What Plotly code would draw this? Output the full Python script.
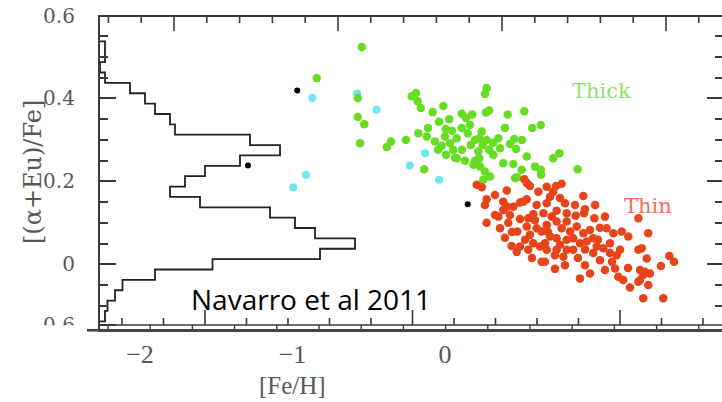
import plotly.graph_objects as go

# ---------------- data ----------------
halo_feh = [-0.870, -0.576, -0.448, -0.911, -0.995, -0.131, -0.231, -0.039]
halo_alpha = [0.401, 0.412, 0.373, 0.216, 0.186, 0.268, 0.238, 0.204]

black_feh = [-0.969, -1.292, 0.149]
black_alpha = [0.419, 0.238, 0.145]

thick_feh = [-0.546, -0.841, -0.572, -0.572, -0.529, -0.557, -0.382, -0.354, -0.256, -0.218,
             -0.190, -0.179, -0.159, -0.081, -0.011, -0.039, 0.028, 0.110, 0.138, 0.179,
             0.273, 0.262, 0.289, 0.269, 0.411, 0.520, 0.572, 0.628, -0.175, -0.120,
             -0.066, 0.005, 0.000, -0.022, 0.033, 0.077, 0.110, 0.149, 0.169, 0.054,
             0.007, 0.077, 0.131, 0.186, 0.225, 0.241, 0.225, 0.273, 0.247, 0.290,
             0.317, 0.350, 0.361, 0.426, 0.454, 0.466, 0.382, 0.448, 0.536, 0.590,
             0.628, 0.710, 0.750, 0.870, 0.230, 0.262, 0.295, 0.251, 0.503, 0.474,
             -0.136, 0.630, 0.197, 0.218, 0.459, 0.066, -0.111, 0.046, 0.164, 0.111,
             0.197, -0.046, 0.315, 0.393, 0.505]
thick_alpha = [0.524, 0.449, 0.401, 0.355, 0.338, 0.292, 0.283, 0.296, 0.300, 0.405,
               0.413, 0.393, 0.377, 0.367, 0.382, 0.344, 0.350, 0.363, 0.353, 0.361,
               0.425, 0.411, 0.371, 0.366, 0.361, 0.369, 0.329, 0.336, 0.316, 0.308,
               0.296, 0.326, 0.308, 0.286, 0.292, 0.304, 0.329, 0.316, 0.288, 0.276,
               0.264, 0.256, 0.250, 0.240, 0.256, 0.320, 0.304, 0.300, 0.288, 0.276,
               0.264, 0.304, 0.280, 0.290, 0.302, 0.278, 0.244, 0.242, 0.260, 0.236,
               0.228, 0.256, 0.268, 0.229, 0.236, 0.224, 0.212, 0.204, 0.228, 0.210,
               0.229, 0.216, 0.250, 0.272, 0.208, 0.257, 0.329, 0.322, 0.336, 0.276,
               0.300, 0.276, 0.293, 0.329, 0.300]

thin_feh = [0.208, 0.241, 0.536, 0.520, 0.557, 0.405, 0.273, 0.262, 0.382, 0.409,
            0.492, 0.536, 0.612, 0.667, 0.728, 0.765, 0.710, 0.689, 0.601, 0.667,
            0.787, 0.907, 0.918, 0.911, 0.979, 0.857, 0.798, 0.732, 0.700, 0.645,
            0.579, 0.546, 0.492, 0.426, 0.350, 0.361, 0.273, 0.415, 0.474, 0.536,
            0.557, 0.601, 0.634, 0.667, 0.732, 0.765, 0.798, 0.820, 0.864, 0.907,
            0.972, 0.929, 0.885, 0.841, 0.798, 0.732, 0.689, 0.656, 0.623, 0.579,
            0.546, 0.437, 0.492, 0.470, 0.634, 0.721, 0.776, 0.841, 0.918, 0.972,
            1.038, 1.082, 1.104, 1.016, 0.918, 0.885, 0.951, 1.049, 1.115, 1.136,
            1.169, 1.213, 1.268, 1.279, 1.300, 1.344, 1.333, 1.300, 1.431, 1.416,
            1.471, 1.502, 1.323, 1.268, 1.159, 1.202, 1.148, 1.268, 1.333, 1.126,
            1.082, 0.995, 0.448, 0.732, 0.667, 0.798, 1.049, 1.060, 0.513, 0.382,
            0.328, 1.290, 1.311, 1.279, 0.590, 0.675, 0.754, 0.951, 1.003, 0.393,
            0.525, 0.721, 0.872, 0.787, 1.095, 1.200, 0.328, 0.754, 0.852, 0.984,
            1.016, 0.439, 0.570, 0.656]
thin_alpha = [0.192, 0.186, 0.196, 0.205, 0.189, 0.178, 0.157, 0.143, 0.151, 0.139,
              0.149, 0.157, 0.175, 0.187, 0.189, 0.194, 0.175, 0.163, 0.143, 0.147,
              0.147, 0.165, 0.133, 0.123, 0.111, 0.117, 0.123, 0.129, 0.115, 0.123,
              0.121, 0.111, 0.109, 0.119, 0.115, 0.087, 0.100, 0.100, 0.079, 0.091,
              0.071, 0.087, 0.079, 0.095, 0.103, 0.087, 0.103, 0.079, 0.091, 0.075,
              0.063, 0.055, 0.051, 0.063, 0.059, 0.063, 0.067, 0.051, 0.043, 0.051,
              0.035, 0.044, 0.043, 0.030, 0.006, -0.011, 0.018, 0.035, 0.036, 0.027,
              0.039, 0.051, 0.075, 0.010, -0.002, -0.034, -0.022, -0.014, -0.010, -0.030,
              -0.038, -0.056, -0.042, -0.014, -0.026, -0.022, -0.050, -0.082, -0.082, -0.004,
              0.020, 0.006, 0.014, 0.035, 0.079, 0.067, 0.035, 0.111, 0.075, 0.022,
              0.027, 0.043, 0.139, 0.035, 0.035, 0.035, 0.115, 0.087, 0.151, 0.131,
              0.119, 0.039, -0.018, -0.038, 0.106, 0.078, 0.047, 0.083, 0.059, 0.064,
              0.059, 0.022, 0.015, -0.002, 0.006, -0.009, 0.167, 0.160, 0.143, 0.143,
              0.088, 0.078, 0.015, 0.006]

hist_centers = [0.525, 0.500, 0.475, 0.450, 0.425, 0.400, 0.375, 0.350, 0.325, 0.300,
                0.275, 0.250, 0.225, 0.200, 0.175, 0.150, 0.125, 0.100, 0.075, 0.050,
                0.025, 0.000, -0.025, -0.050, -0.075, -0.100, -0.125]
hist_counts = [1, 1, 0, 1, 6, 9, 11, 14, 15, 30,
               36, 28, 21, 17, 14, 20, 34, 39, 43, 51,
               44, 22.5, 11, 4.5, 3, 1.5, 1]
bin_width = 0.025

x_ticks = [-2, -1, 0]
x_ticktext = ["\u22122", "\u22121", "0"]
y_ticks = [0, 0.2, 0.4, 0.6]
y_ticktext = ["0", "0.2", "0.4", "0.6"]
y_minor = [-0.1, -0.05, 0.05, 0.1, 0.15, 0.25, 0.3, 0.35, 0.45, 0.5, 0.55]
# frame tick sets (top frame scale and bottom frame scale of the pasted panel)
top_major = [0, 1, 2, 3]
top_minor = [-0.4, -0.2, 0.2, 0.4, 0.6, 0.8, 1.2, 1.4, 1.6, 1.8, 2.2, 2.4, 2.6, 2.8, 3.2]
frm_major = [-2, -1, 0]
frm_minor = [-2.4, -2.2, -1.8, -1.6, -1.4, -1.2, -0.8, -0.6, -0.4, -0.2, 0.2, 0.4]
small_ticks = list(range(0, 15))

AX = "#3a3a3a"
LBL = "#575757"
YR = [-0.156, 0.6012]
TOP_R = [-0.4512, 3.3415]
FRM_R = [-2.506, 0.4916]
SML_R = [-0.1896, 14.55]
PX = (YR[1] - YR[0]) / 314.0     # one pixel in y-axis units
Y_TOP = YR[1] - 1 * PX           # top frame line (just inside plot area)
Y_FRAME = YR[0] + 4 * PX         # bottom frame line, 4 px above lower axis line

fig = go.Figure()

fig.add_trace(go.Scatter(x=halo_feh, y=halo_alpha, mode="markers",
                         marker=dict(color="#6fe6f2", size=8, line=dict(width=0))))
fig.add_trace(go.Scatter(x=thick_feh, y=thick_alpha, mode="markers",
                         marker=dict(color="#66dd22", size=8.5, line=dict(width=0))))
fig.add_trace(go.Scatter(x=thin_feh, y=thin_alpha, mode="markers",
                         marker=dict(color="#e8441a", size=8.5, line=dict(width=0))))
fig.add_trace(go.Scatter(x=black_feh, y=black_alpha, mode="markers",
                         marker=dict(color="#000000", size=6, line=dict(width=0))))

hx = [0]
hy = [hist_centers[0] + bin_width / 2]
for c, n in zip(hist_centers, hist_counts):
    hx += [n, n]
    hy += [c + bin_width / 2, c - bin_width / 2]
hx.append(0)
hy.append(hist_centers[-1] - bin_width / 2)
fig.add_trace(go.Scatter(x=hx, y=hy, xaxis="x2", yaxis="y", mode="lines",
                         line=dict(color="#222222", width=1.8), hoverinfo="skip"))

for ya in ["y2", "y3", "y4"]:
    fig.add_trace(go.Scatter(x=[], y=[], xaxis="x", yaxis=ya, mode="markers",
                             hoverinfo="skip", showlegend=False))


def tick_path(vals, y0, y1):
    xs, ys = [], []
    for v in vals:
        xs += [v, v, None]
        ys += [y0, y1, None]
    return xs, ys


def frame_trace(xs, ys, xaxis, width=1.6):
    # drawn on the main y axis (like the histogram), own x scale
    fig.add_trace(go.Scatter(x=xs, y=ys, xaxis=xaxis, yaxis="y", mode="lines",
                             line=dict(color=AX, width=width), hoverinfo="skip",
                             showlegend=False))


# top frame: line + downward ticks (own scale, axis x3)
frame_trace([TOP_R[0], TOP_R[1]], [Y_TOP, Y_TOP], "x3", width=2)
frame_trace(*tick_path(top_major, YR[1], YR[1] - 16 * PX), "x3")
frame_trace(*tick_path(top_minor, YR[1], YR[1] - 8 * PX), "x3")
# bottom frame: line + upward ticks (own scale, axis x4)
frame_trace([FRM_R[0], FRM_R[1]], [Y_FRAME, Y_FRAME], "x4", width=1.6)
frame_trace(*tick_path(frm_major, Y_FRAME, Y_FRAME + 15 * PX), "x4")
frame_trace(*tick_path(frm_minor, Y_FRAME, Y_FRAME + 7 * PX), "x4")
# tiny ticks between the two bottom lines (axis x5)
frame_trace(*tick_path(small_ticks, YR[0], Y_FRAME), "x5", width=1.4)


def tick_axis(rng, vals, ticklen, **kw):
    d = dict(range=rng, ticks="inside", ticklen=ticklen, tickwidth=1.6,
             tickcolor=AX, tickmode="array", tickvals=vals, showticklabels=False,
             showgrid=False, zeroline=False, showline=False)
    d.update(kw)
    return d


hidden = dict(showline=False, ticks="", showticklabels=False, showgrid=False,
              zeroline=False)

fig.update_layout(
    width=722, height=402,
    margin=dict(l=100, r=0, t=15, b=73),
    paper_bgcolor="white", plot_bgcolor="white",
    showlegend=False,
    xaxis=dict(domain=[0, 1], range=[-2.2623, 1.8164], anchor="y",
               showline=True, linecolor="#444444", linewidth=2.6,
               ticks="", tickmode="array", tickvals=x_ticks, ticktext=x_ticktext,
               tickfont=dict(family="Liberation Serif", size=26, color=LBL),
               showgrid=False, zeroline=False),
    xaxis2=dict(overlaying="x", anchor="y", range=[0, 124.4], **hidden),
    xaxis3=dict(overlaying="x", anchor="y", range=TOP_R, **hidden),
    xaxis4=dict(overlaying="x", anchor="y", range=FRM_R, **hidden),
    xaxis5=dict(overlaying="x", anchor="y", range=SML_R, **hidden),
    yaxis=dict(range=YR, anchor="x", showline=True, linecolor=AX, linewidth=2,
               ticks="inside", ticklen=16, tickwidth=1.6, tickcolor=AX,
               tickmode="array", tickvals=[-0.1464] + y_ticks,
               ticktext=["0.6   "] + [t + "   " for t in y_ticktext],
               tickfont=dict(family="DejaVu Serif", size=20, color=LBL),
               showgrid=False, zeroline=False),
    yaxis3=tick_axis(YR, y_minor, 8, overlaying="y", anchor="x", side="left"),
    yaxis2=tick_axis(YR, y_ticks, 15, overlaying="y", anchor="x", side="right"),
    yaxis4=tick_axis(YR, y_minor, 7, overlaying="y", anchor="x", side="right"),
)

# hide the lower half of the clipped bottom label, extend the lower axis line
fig.add_shape(type="rect", xref="paper", yref="paper", x0=-0.16, x1=-0.006,
              y0=-0.045, y1=0.012, fillcolor="white", line=dict(width=0), layer="above")
fig.add_shape(type="line", xref="paper", yref="paper", x0=-0.0209, x1=0.003,
              y0=-0.004, y1=-0.004, line=dict(color="#444444", width=2.6), layer="above")

fig.add_annotation(xref="paper", yref="paper", x=-0.1077, y=0.5, text="[(\u03b1+Eu)/Fe]",
                   textangle=-90, showarrow=False, xanchor="center", yanchor="middle",
                   font=dict(family="DejaVu Serif", size=24, color=LBL))
fig.add_annotation(xref="paper", yref="paper", x=0.3087, y=-0.1815, text="[Fe/H]",
                   showarrow=False, xanchor="center", yanchor="middle",
                   font=dict(family="Liberation Serif", size=25, color=LBL))
fig.add_annotation(xref="paper", yref="paper", x=0.3392, y=0.0955, text="Navarro et al 2011",
                   showarrow=False, xanchor="center", yanchor="middle",
                   font=dict(family="Open Sans", size=28, color="#000000"))
fig.add_annotation(x=1.023, y=0.418, text="Thick", showarrow=False,
                   xanchor="center", yanchor="middle",
                   font=dict(family="DejaVu Serif", size=21, color="#8fe36b"))
fig.add_annotation(x=1.328, y=0.1406, text="Thin", showarrow=False,
                   xanchor="center", yanchor="middle",
                   font=dict(family="DejaVu Serif", size=21, color="#f0705c"))

fig.write_html("out.html")
